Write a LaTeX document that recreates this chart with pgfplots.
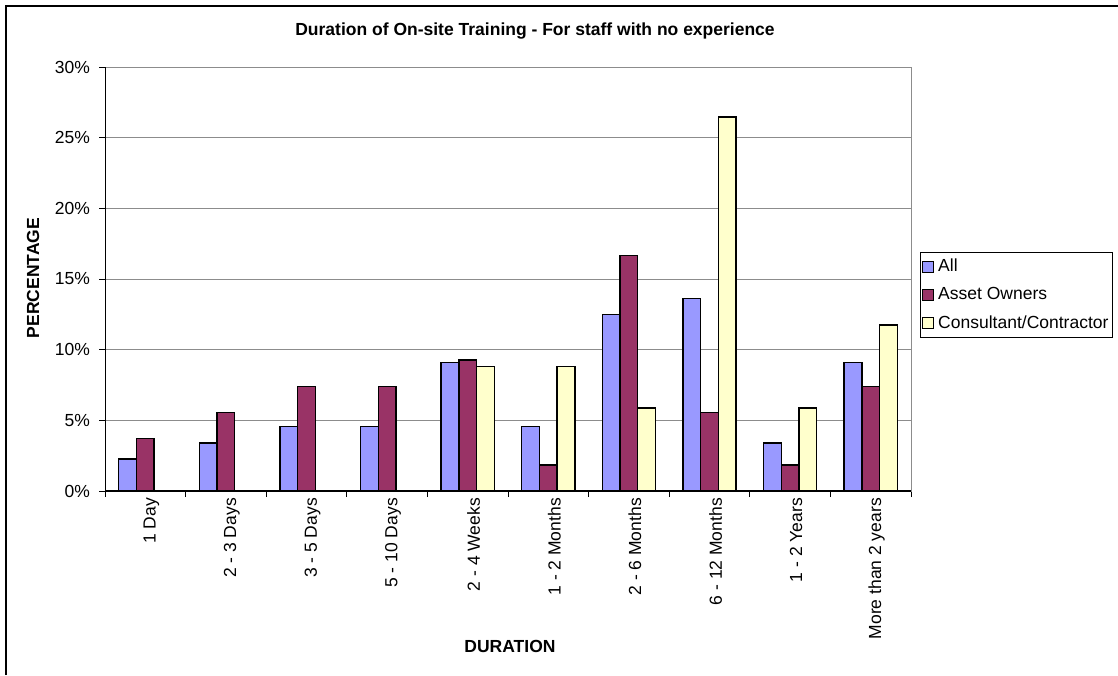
\documentclass[border=0pt]{standalone}
\usepackage{pgfplots}
\pgfplotsset{compat=1.18}
\usepackage{fontspec}
\setmainfont{Liberation Sans}

\definecolor{cAll}{RGB}{153,153,255}
\definecolor{cOwn}{RGB}{153,51,102}
\definecolor{cCon}{RGB}{255,255,204}
\definecolor{cGrid}{RGB}{140,140,140}

\begin{document}
\fontsize{17.5}{21}\selectfont
\begin{tikzpicture}[x=1pt,y=1pt]
\useasboundingbox (0,0) rectangle (1118,-675);
\draw[line width=1.2pt] (6,-675) -- (6,-6) -- (1118,-6);
\node[font=\bfseries] at (535,-31) {Duration of On-site Training - For staff with no experience};
\node[font=\bfseries] at (510,-646) {DURATION};
\node[font=\bfseries,rotate=90] at (33,-278) {PERCENTAGE};

\begin{axis}[
    at={(105pt,-491pt)}, anchor=south west,
    scale only axis, width=806pt, height=424pt,
    ybar=0pt, bar width=0.22,
    xmin=-0.5, xmax=9.5,
    ymin=0, ymax=30, ytick={0,5,...,30},
    yticklabel={\pgfmathprintnumber{\tick}\%},
    /pgf/number format/assume math mode=true,
    xtick={0,...,9},
    xticklabels={1 Day,2 - 3 Days,3 - 5 Days,5 - 10 Days,2 - 4 Weeks,1 - 2 Months,2 - 6 Months,6 - 12 Months,1 - 2 Years,More than 2 years},
    xticklabel style={rotate=90, anchor=east, inner sep=0pt, xshift=-1pt},
    major x tick style={draw=none},
    minor xtick={-0.5,0.5,...,9.5},
    xtick pos=bottom, ytick pos=left,
    tick align=outside, major tick length=6pt, minor tick length=6pt,
    tick style={black, line width=1pt},
    x tick label style={yshift=-6pt},
    y tick label style={xshift=-3pt},
    ymajorgrids, grid style={cGrid, line width=1pt},
    axis line style={draw=cGrid, line width=1pt},
    ticklabel style={font=\fontsize{17.5}{21}\selectfont},
    legend style={at={(1.0112,0.564)}, anchor=north west, draw=black, line width=0.8pt,
        font=\fontsize{17.5}{21}\selectfont, inner xsep=2pt, inner ysep=5pt, row sep=9pt,
        /tikz/every odd column/.append style={column sep=2pt}},
    legend cell align=left,
    every axis plot/.append style={draw=black, line width=1.4pt},
    legend image code/.code={\draw[#1, line width=0.8pt] (0pt,-5pt) rectangle (11pt,6pt);},
]
\addplot[fill=cAll] coordinates {(0,2.27) (1,3.41) (2,4.55) (3,4.55) (4,9.09) (5,4.55) (6,12.5) (7,13.64) (8,3.41) (9,9.09)};
\addlegendentry{All}
\addplot[fill=cOwn] coordinates {(0,3.70) (1,5.56) (2,7.41) (3,7.41) (4,9.26) (5,1.85) (6,16.67) (7,5.56) (8,1.85) (9,7.41)};
\addlegendentry{Asset Owners}
\addplot[fill=cCon] coordinates {(0,0) (1,0) (2,0) (3,0) (4,8.82) (5,8.82) (6,5.88) (7,26.47) (8,5.88) (9,11.76)};
\addlegendentry{Consultant/Contractor}
\draw[black, line width=1.2pt] (rel axis cs:0,1) -- (rel axis cs:0,0) -- (rel axis cs:1,0);
\end{axis}
\end{tikzpicture}
\end{document}
